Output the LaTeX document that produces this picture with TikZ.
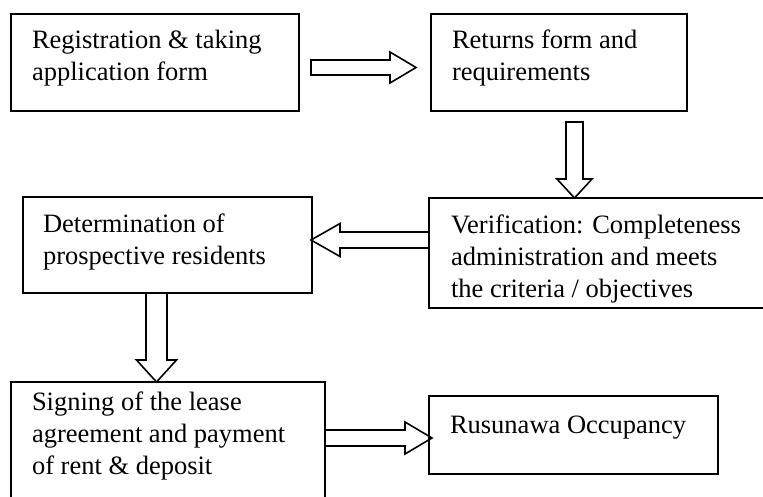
\documentclass[tikz,border=0pt]{standalone}
\usepackage{fontspec}
\setmainfont{Liberation Serif}
\usetikzlibrary{calc}

\newcommand{\bodyfont}{\fontsize{26.5}{32}\selectfont}

% Hollow block arrows: tail point, tip point, shaft half-width, head half-width, head length
\newcommand{\hollowright}[5]{%
  \draw[hollow] let \p1=(#1), \p2=(#2) in
    (\x1,\y1+#3) -- (\x2-#5,\y1+#3) -- (\x2-#5,\y1+#4) -- (\x2,\y1)
    -- (\x2-#5,\y1-#4) -- (\x2-#5,\y1-#3) -- (\x1,\y1-#3) -- cycle;}
\newcommand{\hollowleft}[5]{%
  \draw[hollow] let \p1=(#1), \p2=(#2) in
    (\x1,\y1+#3) -- (\x2+#5,\y1+#3) -- (\x2+#5,\y1+#4) -- (\x2,\y1)
    -- (\x2+#5,\y1-#4) -- (\x2+#5,\y1-#3) -- (\x1,\y1-#3) -- cycle;}
\newcommand{\hollowdown}[5]{%
  \draw[hollow] let \p1=(#1), \p2=(#2) in
    (\x1-#3,\y1) -- (\x1-#3,\y2+#5) -- (\x1-#4,\y2+#5) -- (\x1,\y2)
    -- (\x1+#4,\y2+#5) -- (\x1+#3,\y2+#5) -- (\x1+#3,\y1) -- cycle;}

\tikzset{
  box/.style={draw=black, line width=2pt, rectangle, outer sep=0pt, inner sep=0pt, anchor=north west},
  txt/.style={font=\bodyfont, align=left, anchor=north west, inner sep=0pt, outer sep=0pt},
  hollow/.style={draw=black, line width=1.6pt, line join=miter}
}

\begin{document}
\begin{tikzpicture}[x=1pt,y=1pt]
  \clip (0,0) rectangle (763,-496);
  \fill[white] (0,0) rectangle (763,-496);

  % process boxes
  \node[box, minimum width=288pt, minimum height=97pt] (b1) at (11,-14) {};
  \node[box, minimum width=256pt, minimum height=97pt] (b2) at (431,-14) {};
  \node[box, minimum width=360pt, minimum height=110pt] (b3) at (429,-198) {};
  \node[box, minimum width=289pt, minimum height=96pt] (b4) at (23,-197) {};
  \node[box, minimum width=314pt, minimum height=140pt] (b5) at (11,-382) {};
  \node[box, minimum width=289pt, minimum height=78pt] (b6) at (429,-396) {};

  % box texts
  \node[txt] (t1) at ($(b1.north west)+(21,-11.6)$) {\strut Registration \& taking\\application form};
  \node[txt] (t2) at ($(b2.north west)+(21,-11.6)$) {\strut Returns form and\\requirements};
  \node[txt] (t3) at ($(b3.north west)+(22,-12.6)$) {\strut Verification: Completeness\\administration and meets\\the criteria / objectives};
  \node[txt] (t4) at ($(b4.north west)+(20,-12.6)$) {\strut Determination of\\prospective residents};
  \node[txt] (t5) at ($(b5.north west)+(21,-6.1)$) {\strut Signing of the lease\\agreement and payment\\of rent \& deposit};
  \node[txt] (t6) at ($(b6.north west)+(21,-14.6)$) {\strut Rusunawa Occupancy};

  % flow arrows
  \hollowright{$(b1.east)+(12,-5)$}{$(b2.west)+(-15,-5)$}{7.5}{15.5}{26}
  \hollowdown{$(b2.north west)+(143.5,-108)$}{$(b3.north west)+(145.5,0)$}{8.5}{17.5}{19}
  \hollowleft{$(b3.north west)+(0,-42)$}{$(b4.north east)+(-1,-43)$}{8}{16.5}{29}
  \hollowdown{$(b4.south west)+(133.5,0)$}{$(b5.north west)+(145.5,0)$}{10.5}{20}{22}
  \hollowright{$(b5.north east)+(0,-56)$}{$(b6.west)+(3,-3)$}{8}{16}{27}
\end{tikzpicture}
\end{document}
